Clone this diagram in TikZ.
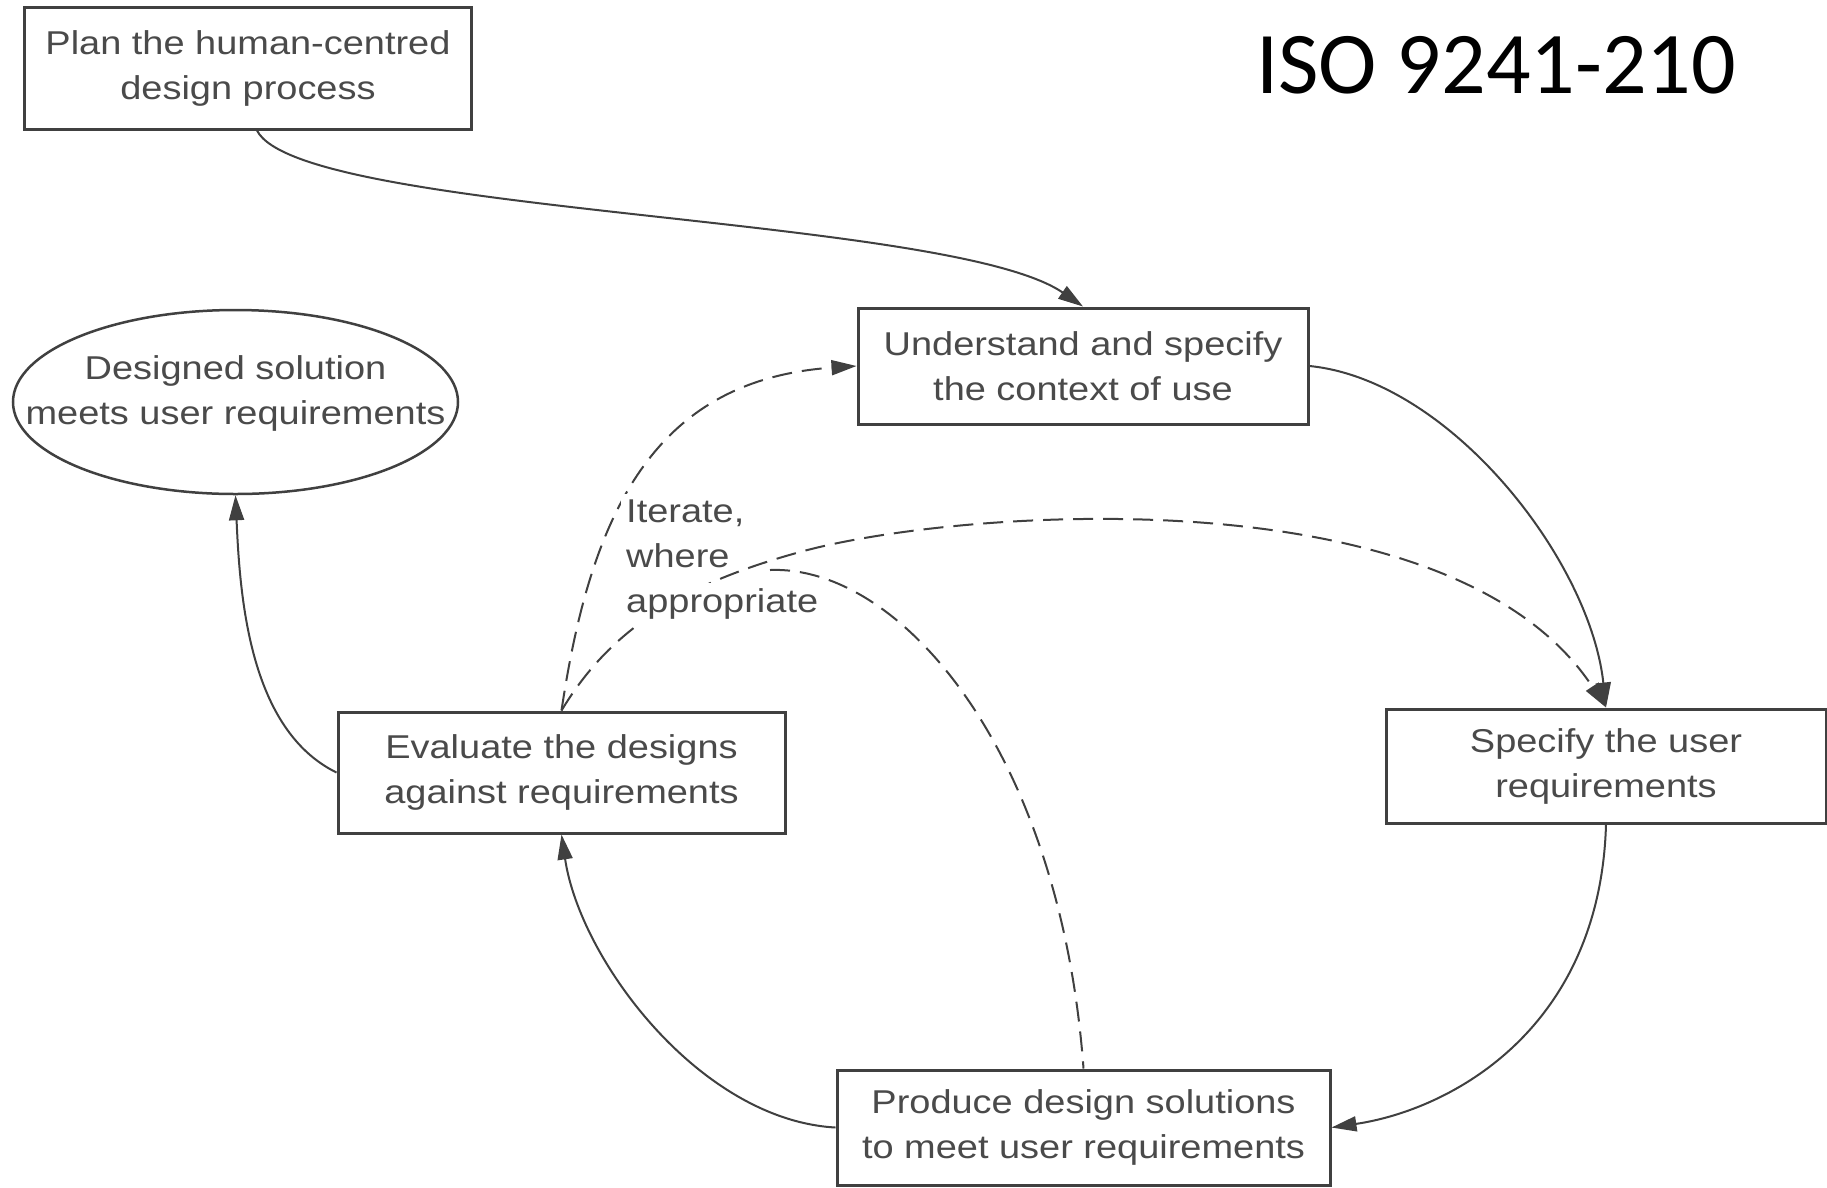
\documentclass[tikz,border=0pt]{standalone}
\usepackage{fontspec}
\setmainfont{Liberation Sans}[FakeStretch=1.15]
\newfontfamily\isofont{Carlito}
\usetikzlibrary{arrows.meta,shapes.geometric,calc}
\definecolor{linec}{HTML}{404040}
\definecolor{textc}{HTML}{4a4a4a}
\tikzset{
  stepbox/.style={draw=linec, line width=3pt, inner sep=0pt, align=center, text=textc,
    font=\fontsize{33}{45}\selectfont},
  goal/.style={ellipse, draw=linec, line width=2.5pt, inner xsep=-60pt, inner ysep=0pt,
    align=center, text=textc, font=\fontsize{33}{45}\selectfont, text depth=23pt,
    minimum width=445pt, minimum height=184pt},
  conn/.style={draw=linec, line width=2pt, -{Triangle[length=25pt,width=15pt]}},
  dconn/.style={conn, dash pattern=on 20pt off 10pt},
  dline/.style={draw=linec, line width=2pt, dash pattern=on 20pt off 10pt},
  lbl/.style={anchor=base west, fill=white, inner sep=5pt, text=textc,
    font=\fontsize{33}{45}\selectfont}
}
\begin{document}
\begin{tikzpicture}[x=1pt,y=-1pt]
\fill[white] (0,0) rectangle (1827,1187);
\useasboundingbox (0,0) rectangle (1827,1187);

\node[stepbox, minimum width=447pt, minimum height=122pt] (plan) at (248,68)
  {Plan the human-centred\\design process};
\node[stepbox, minimum width=450pt, minimum height=116pt] (und) at (1083,366)
  {Understand and specify\\the context of use};
\node[stepbox, minimum width=440pt, minimum height=114pt] (spec) at (1606,766)
  {Specify the user\\requirements};
\node[stepbox, minimum width=493pt, minimum height=115pt] (prod) at (1083.5,1127.5)
  {Produce design solutions\\to meet user requirements};
\node[stepbox, minimum width=447pt, minimum height=121pt] (eval) at (561.5,772.5)
  {Evaluate the designs\\against requirements};
\node[goal] (goal) at (235.5,402) {Designed solution\\meets user requirements};

\node[anchor=base west, inner sep=0pt, font=\isofont\fontsize{88}{100}\selectfont] (iso) at (1256,93) {ISO 9241-210};

% solid connectors
\draw[conn] ($(plan.south)+(9,0)$) .. controls (300,215) and (950,215) .. (und.north);
\draw[conn] (und.east) .. controls (1450,380) and (1590,560) .. (spec.north);
\draw[conn] (spec.south) .. controls (1600,1030) and (1450,1110) .. (prod.east);
\draw[conn] (prod.west) .. controls (700,1120) and (580,960) .. (eval.south);
\draw[conn] (eval.west) .. controls (250,730) and (240,600) .. (goal.south);

% dashed iteration connectors
\draw[dconn] (eval.north) .. controls (590,520) and (650,380) .. (und.west);
\draw[dconn] (eval.north) .. controls (610,630) and (680,585) .. (800,552)
  .. controls (950,510) and (1450,470) .. (spec.north);
\coordinate (itend) at (770,570);
\draw[dline] (itend) .. controls (900,565) and (1060,750) .. (prod.north);

% label
\node[lbl] (it1) at (621,522) {Iterate,};
\node[lbl] (it2) at (621,567) {where};
\node[lbl] (it3) at (621,612) {appropriate};
\end{tikzpicture}
\end{document}
